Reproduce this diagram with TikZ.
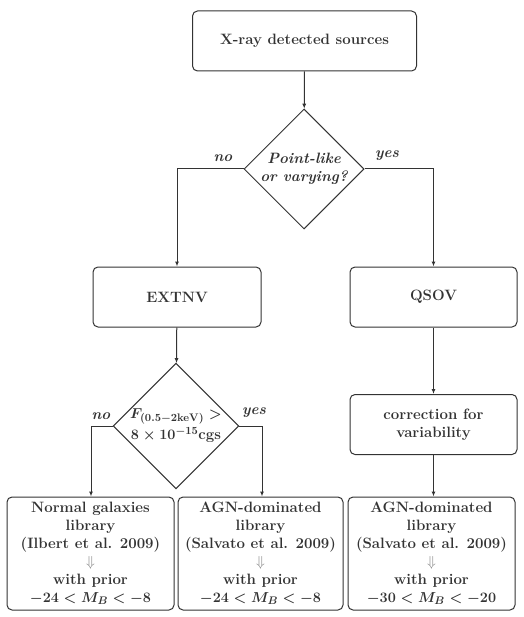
\documentclass[tikz,border=0pt]{standalone}
\usepackage{amsmath}
\usetikzlibrary{shapes.geometric,arrows.meta}
\definecolor{ink}{HTML}{333333}
\newcommand{\darr}{\textcolor{gray}{\normalfont$\Downarrow$}}
\tikzset{
  px/.style={x=1pt,y=-1pt},
  box/.style={draw=ink,line width=1pt,rounded corners=5pt,align=center,inner sep=2pt,
    font=\fontsize{15}{18}\selectfont\bfseries,text=ink},
  dia/.style={draw=ink,line width=1pt,diamond,minimum width=120pt,minimum height=120pt,inner sep=0pt,
    align=center,text=ink},
  conn/.style={draw=ink,line width=1pt,-{Latex[length=5pt,width=4pt]}},
  lab/.style={text=ink,font=\fontsize{15}{18}\selectfont\bfseries\itshape}
}
\begin{document}
\begin{tikzpicture}[px]
\useasboundingbox (0,0) rectangle (523,617);
\node[box,minimum width=224pt,minimum height=60pt] (top) at (304.5,41) {X-ray detected sources};
\node[dia,font=\fontsize{15}{18}\selectfont\bfseries\itshape] (d1) at (304,169) {Point-like\\or varying?};
\node[box,minimum width=168pt,minimum height=60pt] (ext) at (177,297) {EXTNV};
\node[box,minimum width=167pt,minimum height=60pt] (qso) at (433.5,297) {QSOV};
\node[box,minimum width=167pt,minimum height=60pt] (corr) at (433.5,424.5) {correction for\\variability};
\node[dia,font=\fontsize{15}{18}\selectfont\bfseries\boldmath] (d2) at (176,426) {$F_{(0.5-2\mathrm{keV})}>$\\[2pt]$8\times10^{-15}$cgs};
\node[box,minimum width=167pt,minimum height=113pt] (b1) at (90.5,553.5) {Normal galaxies\\library\\{(Ilbert et al. 2009)}\\\darr\\with prior\\{\boldmath$-24<M_B<-8$}};
\node[box,minimum width=165pt,minimum height=113pt] (b2) at (260.5,553.5) {AGN-dominated\\library\\{(Salvato et al. 2009)}\\\darr\\with prior\\{\boldmath$-24<M_B<-8$}};
\node[box,minimum width=167pt,minimum height=113pt] (b3) at (431.5,553.5) {AGN-dominated\\library\\{(Salvato et al. 2009)}\\\darr\\with prior\\{\boldmath$-30<M_B<-20$}};
\draw[conn] (top) -- (d1);
\draw[conn] (d1.west) -| (ext.north);
\draw[conn] (d1.east) -| (qso.north);
\draw[conn] (ext) -- (d2);
\draw[conn] (qso) -- (corr);
\draw[conn] (corr.south) -- (corr.south |- b3.north);
\draw[conn] (d2.west) -| ([xshift=0.5pt]b1.north);
\draw[conn] (d2.east) -| ([xshift=1.5pt]b2.north);
\node[lab] (l1) at (223,158) {no};
\node[lab] (l2) at (387,156) {yes};
\node[lab] (l3) at (101,416) {no};
\node[lab] (l4) at (254,413) {yes};
\end{tikzpicture}
\end{document}
